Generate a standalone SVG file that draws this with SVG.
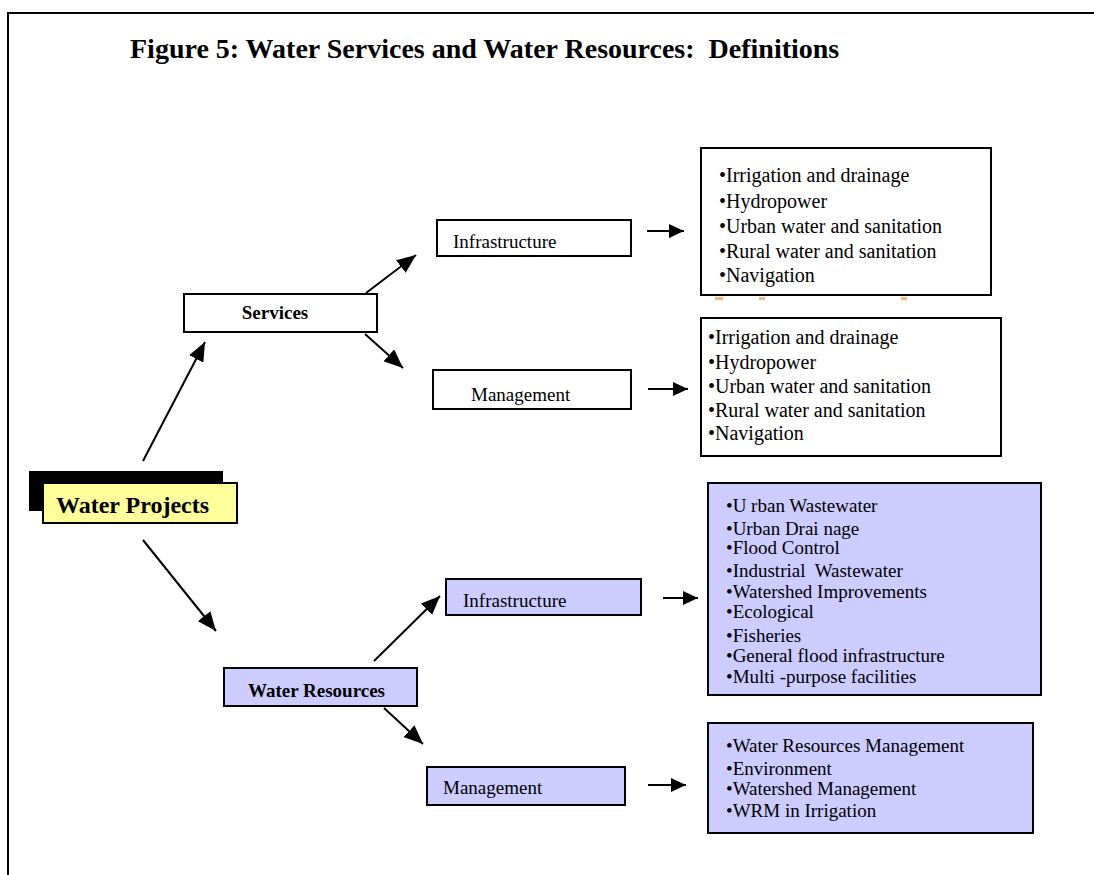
<svg xmlns="http://www.w3.org/2000/svg" width="1094" height="875" viewBox="0 0 1094 875">
<defs>
<style>
.frame{fill:none;stroke:#000;stroke-width:2}
.box{fill:#fff;stroke:#000;stroke-width:2}
.pbox{fill:#CCCCFF;stroke:#000;stroke-width:2}
.ybox{fill:#FFFF99;stroke:#000;stroke-width:2}
.t{font-family:"Liberation Serif","Times New Roman",serif;fill:#000}
.b{font-weight:bold}
.lbl{font-size:19px}
.list{font-size:20px}
.plist{font-size:19px}
.conn line{stroke:#000;stroke-width:2}
.tick{fill:#F7B87A}
</style>
<marker id="ah" markerUnits="userSpaceOnUse" markerWidth="20" markerHeight="16" refX="19" refY="8" orient="auto">
<path d="M0,0 L19,8 L0,16 z" fill="#000"/>
</marker>
<marker id="ahs" markerUnits="userSpaceOnUse" markerWidth="16" markerHeight="14" refX="15" refY="7" orient="auto">
<path d="M0,0 L15,7 L0,14 z" fill="#000"/>
</marker>
</defs>
<rect fill="#fff" x="0" y="0" width="1094" height="875"/>
<rect class="frame" x="8" y="13" width="1100" height="880"/>
<text class="t b" x="130" y="58" font-size="28" xml:space="preserve">Figure 5: Water Services and Water Resources:  Definitions</text>

<g id="water-projects">
<rect x="29" y="471" width="194" height="40" fill="#000"/>
<rect class="ybox" x="43" y="483" width="194" height="40"/>
<text class="t b" x="56" y="513" font-size="24">Water Projects</text>
</g>

<g id="services">
<rect class="box" x="184" y="294" width="193" height="38"/>
<text class="t b lbl" x="275" y="319" text-anchor="middle">Services</text>
</g>

<g id="svc-infrastructure">
<rect class="box" x="437" y="220" width="194" height="36"/>
<text class="t lbl" x="453" y="248">Infrastructure</text>
</g>

<g id="svc-management">
<rect class="box" x="433" y="370" width="198" height="39"/>
<text class="t lbl" x="471" y="401">Management</text>
</g>

<g id="svc-infra-list">
<rect class="box" x="701" y="148" width="290" height="147"/>
<text class="t list" x="719" y="182">•Irrigation and drainage</text>
<text class="t list" x="719" y="208">•Hydropower</text>
<text class="t list" x="719" y="233">•Urban water and sanitation</text>
<text class="t list" x="719" y="258">•Rural water and sanitation</text>
<text class="t list" x="719" y="282">•Navigation</text>
<rect class="tick" x="715" y="297" width="8" height="3"/>
<rect class="tick" x="759" y="297" width="6" height="3"/>
<rect class="tick" x="901" y="297" width="6" height="3"/>
</g>

<g id="svc-mgmt-list">
<rect class="box" x="701" y="318" width="300" height="138"/>
<text class="t list" x="708" y="344">•Irrigation and drainage</text>
<text class="t list" x="708" y="369">•Hydropower</text>
<text class="t list" x="708" y="393">•Urban water and sanitation</text>
<text class="t list" x="708" y="417">•Rural water and sanitation</text>
<text class="t list" x="708" y="440">•Navigation</text>
</g>

<g id="water-resources">
<rect class="pbox" x="224" y="668" width="193" height="38"/>
<text class="t b lbl" x="248" y="697">Water Resources</text>
</g>

<g id="wr-infrastructure">
<rect class="pbox" x="446" y="579" width="195" height="36"/>
<text class="t lbl" x="463" y="607">Infrastructure</text>
</g>

<g id="wr-management">
<rect class="pbox" x="427" y="767" width="198" height="38"/>
<text class="t lbl" x="443" y="794">Management</text>
</g>

<g id="wr-infra-list">
<rect class="pbox" x="708" y="483" width="333" height="212"/>
<text class="t plist" x="726" y="512" xml:space="preserve">•U rban Wastewater</text>
<text class="t plist" x="726" y="535" xml:space="preserve">•Urban Drai nage</text>
<text class="t plist" x="726" y="554">•Flood Control</text>
<text class="t plist" x="726" y="577" xml:space="preserve">•Industrial  Wastewater</text>
<text class="t plist" x="726" y="598">•Watershed Improvements</text>
<text class="t plist" x="726" y="618">•Ecological</text>
<text class="t plist" x="726" y="642">•Fisheries</text>
<text class="t plist" x="726" y="662">•General flood infrastructure</text>
<text class="t plist" x="726" y="683" xml:space="preserve">•Multi -purpose facilities</text>
</g>

<g id="wr-mgmt-list">
<rect class="pbox" x="708" y="723" width="325" height="110"/>
<text class="t plist" x="726" y="752">•Water Resources Management</text>
<text class="t plist" x="726" y="775">•Environment</text>
<text class="t plist" x="726" y="795">•Watershed Management</text>
<text class="t plist" x="726" y="817">•WRM in Irrigation</text>
</g>

<g id="connectors" class="conn">
<line x1="143" y1="461" x2="205" y2="342" marker-end="url(#ah)"/>
<line x1="366" y1="293" x2="416" y2="255" marker-end="url(#ah)"/>
<line x1="365" y1="334" x2="403" y2="368" marker-end="url(#ah)"/>
<line x1="647" y1="231" x2="684" y2="231" marker-end="url(#ahs)"/>
<line x1="648" y1="389" x2="688" y2="389" marker-end="url(#ahs)"/>
<line x1="143" y1="540" x2="216" y2="631" marker-end="url(#ah)"/>
<line x1="374" y1="661" x2="440" y2="596" marker-end="url(#ah)"/>
<line x1="384" y1="708" x2="423" y2="744" marker-end="url(#ah)"/>
<line x1="663" y1="598" x2="698" y2="598" marker-end="url(#ahs)"/>
<line x1="648" y1="785" x2="686" y2="785" marker-end="url(#ahs)"/>
</g>
</svg>
